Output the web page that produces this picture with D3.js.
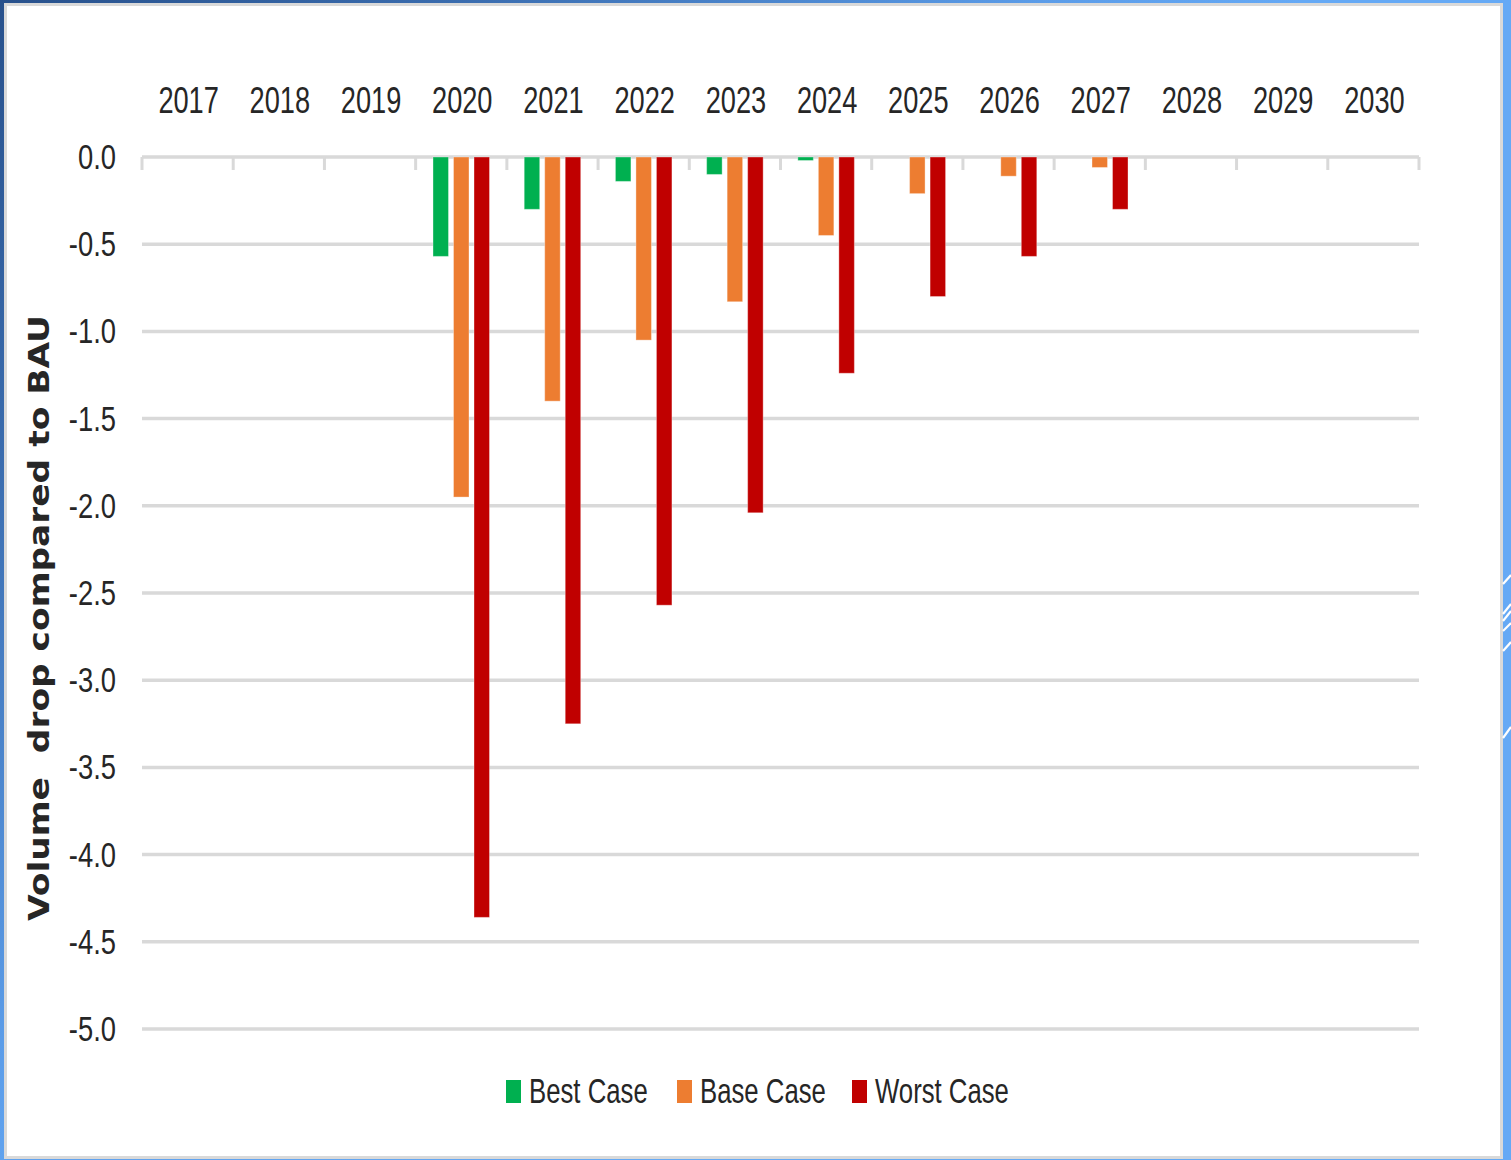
<!DOCTYPE html>
<html>
<head>
<meta charset="utf-8">
<script src="https://cdn.jsdelivr.net/npm/d3@7"></script>
<style>
  html, body { margin: 0; padding: 0; background: #fff; }
  svg { display: block; }
  text { font-family: "Liberation Sans Narrow", "Liberation Sans", Arial, sans-serif; fill: #262626; }
</style>
</head>
<body>
<svg id="chart" width="1511" height="1160"></svg>
<script>
// ---- data ----
const years = ["2017","2018","2019","2020","2021","2022","2023","2024","2025","2026","2027","2028","2029","2030"];
const seriesNames = ["Best Case", "Base Case", "Worst Case"];
const bestCase  = [0, 0, 0, -0.57, -0.30, -0.14, -0.10, -0.02, 0, 0, 0, 0, 0, 0];
const baseCase  = [0, 0, 0, -1.95, -1.40, -1.05, -0.83, -0.45, -0.21, -0.11, -0.06, 0, 0, 0];
const worstCase = [0, 0, 0, -4.36, -3.25, -2.57, -2.04, -1.24, -0.80, -0.57, -0.30, 0, 0, 0];
const yTicks = [0, -0.5, -1, -1.5, -2, -2.5, -3, -3.5, -4, -4.5, -5];
const yTitle = "Volume  drop compared to BAU";
const colors = ["#00b050", "#ed7d31", "#c00000"];

const seriesValues = [bestCase, baseCase, worstCase];

const svg = d3.select("#chart");
const W = 1511, H = 1160;

// ---- background frame ----
const defs = svg.append("defs");
const rg = defs.append("radialGradient").attr("id", "bg")
  .attr("gradientUnits", "userSpaceOnUse").attr("cx", 0).attr("cy", 0).attr("r", 1300);
rg.append("stop").attr("offset", "0").attr("stop-color", "#28518c");
rg.append("stop").attr("offset", "0.35").attr("stop-color", "#3a6cae");
rg.append("stop").attr("offset", "0.8").attr("stop-color", "#5b9ce8");
rg.append("stop").attr("offset", "1").attr("stop-color", "#65a9f5");
svg.append("rect").attr("width", W).attr("height", H).attr("fill", "url(#bg)");
svg.append("rect").attr("x", 5.5).attr("y", 4.5).attr("width", 1496).attr("height", 1153)
  .attr("fill", "#ffffff").attr("stroke", "#d9d9d9").attr("stroke-width", 3);

// decorative slashes on right edge
const slashes = [[584, 575], [614, 604], [621, 611], [631, 623], [651, 642], [738, 727]];
svg.append("g").selectAll("line").data(slashes).join("line")
  .attr("x1", 1503).attr("y1", d => d[0]).attr("x2", 1511).attr("y2", d => d[1])
  .attr("stroke", "#ffffff").attr("stroke-width", 2.2);

// ---- scales ----
const x0 = d3.scaleBand().domain(years).range([142, 1419]).padding(0);
const x1 = d3.scaleBand().domain(seriesNames).range([0, x0.bandwidth()])
  .paddingInner(0.244).paddingOuter(0.846);
const y = d3.scaleLinear().domain([-5, 0]).range([1029, 157]);

const grid = "#d9d9d9";

// gridlines
svg.append("g").selectAll("line").data(yTicks.filter(d => d !== 0)).join("line")
  .attr("x1", 142).attr("x2", 1419)
  .attr("y1", d => y(d)).attr("y2", d => y(d))
  .attr("stroke", grid).attr("stroke-width", 3.5);

// category axis at zero with tick marks going down
svg.append("line").attr("x1", 142).attr("x2", 1419).attr("y1", y(0)).attr("y2", y(0))
  .attr("stroke", grid).attr("stroke-width", 3.5);
const bounds = years.map(d => x0(d)).concat([x0(years[years.length - 1]) + x0.bandwidth()]);
svg.append("g").selectAll("line").data(bounds).join("line")
  .attr("x1", d => d).attr("x2", d => d).attr("y1", y(0)).attr("y2", y(0) + 13)
  .attr("stroke", grid).attr("stroke-width", 3);

// ---- bars ----
const barData = [];
years.forEach((yr, i) => {
  seriesNames.forEach((s, j) => {
    const v = seriesValues[j][i];
    if (v !== 0) barData.push({ yr, s, v, c: colors[j] });
  });
});
svg.append("g").selectAll("rect").data(barData).join("rect")
  .attr("x", d => x0(d.yr) + x1(d.s))
  .attr("width", x1.bandwidth())
  .attr("y", y(0))
  .attr("height", d => y(d.v) - y(0))
  .attr("fill", d => d.c)
  .attr("stroke", "#ffffff").attr("stroke-opacity", 0.35).attr("stroke-width", 1);

// ---- year labels (top) ----
svg.append("g").selectAll("text").data(years).join("text")
  .attr("transform", d => `translate(${x0(d) + x0.bandwidth() / 2 + 1},113) scale(0.735,1)`)
  .attr("text-anchor", "middle")
  .style("font-size", "37px")
  .text(d => d);

// ---- y tick labels ----
svg.append("g").selectAll("text").data(yTicks).join("text")
  .attr("transform", d => `translate(116,${y(d) + 12}) scale(0.76,1)`)
  .attr("text-anchor", "end")
  .style("font-size", "36px")
  .text(d => (d < 0 ? "-" : "") + Math.abs(d).toFixed(1));

// ---- y title ----
svg.append("text")
  .attr("transform", "translate(49,618) rotate(-90)")
  .attr("text-anchor", "middle")
  .attr("textLength", 606).attr("lengthAdjust", "spacingAndGlyphs")
  .style("white-space", "pre")
  .style("font-family", "'DejaVu Sans', sans-serif")
  .style("font-weight", "bold")
  .style("font-size", "28px")
  .text(yTitle);

// ---- legend ----
const legendX = [506, 677, 852];
const lg = svg.append("g").selectAll("g").data(seriesNames).join("g")
  .attr("transform", (d, i) => `translate(${legendX[i]},0)`);
lg.append("rect").attr("x", 0).attr("y", 1080).attr("width", 15).attr("height", 23)
  .attr("fill", (d, i) => colors[i]);
lg.append("text")
  .attr("transform", "translate(23,1103) scale(0.715,1)")
  .style("font-size", "36px")
  .text(d => d);
</script>
</body>
</html>
